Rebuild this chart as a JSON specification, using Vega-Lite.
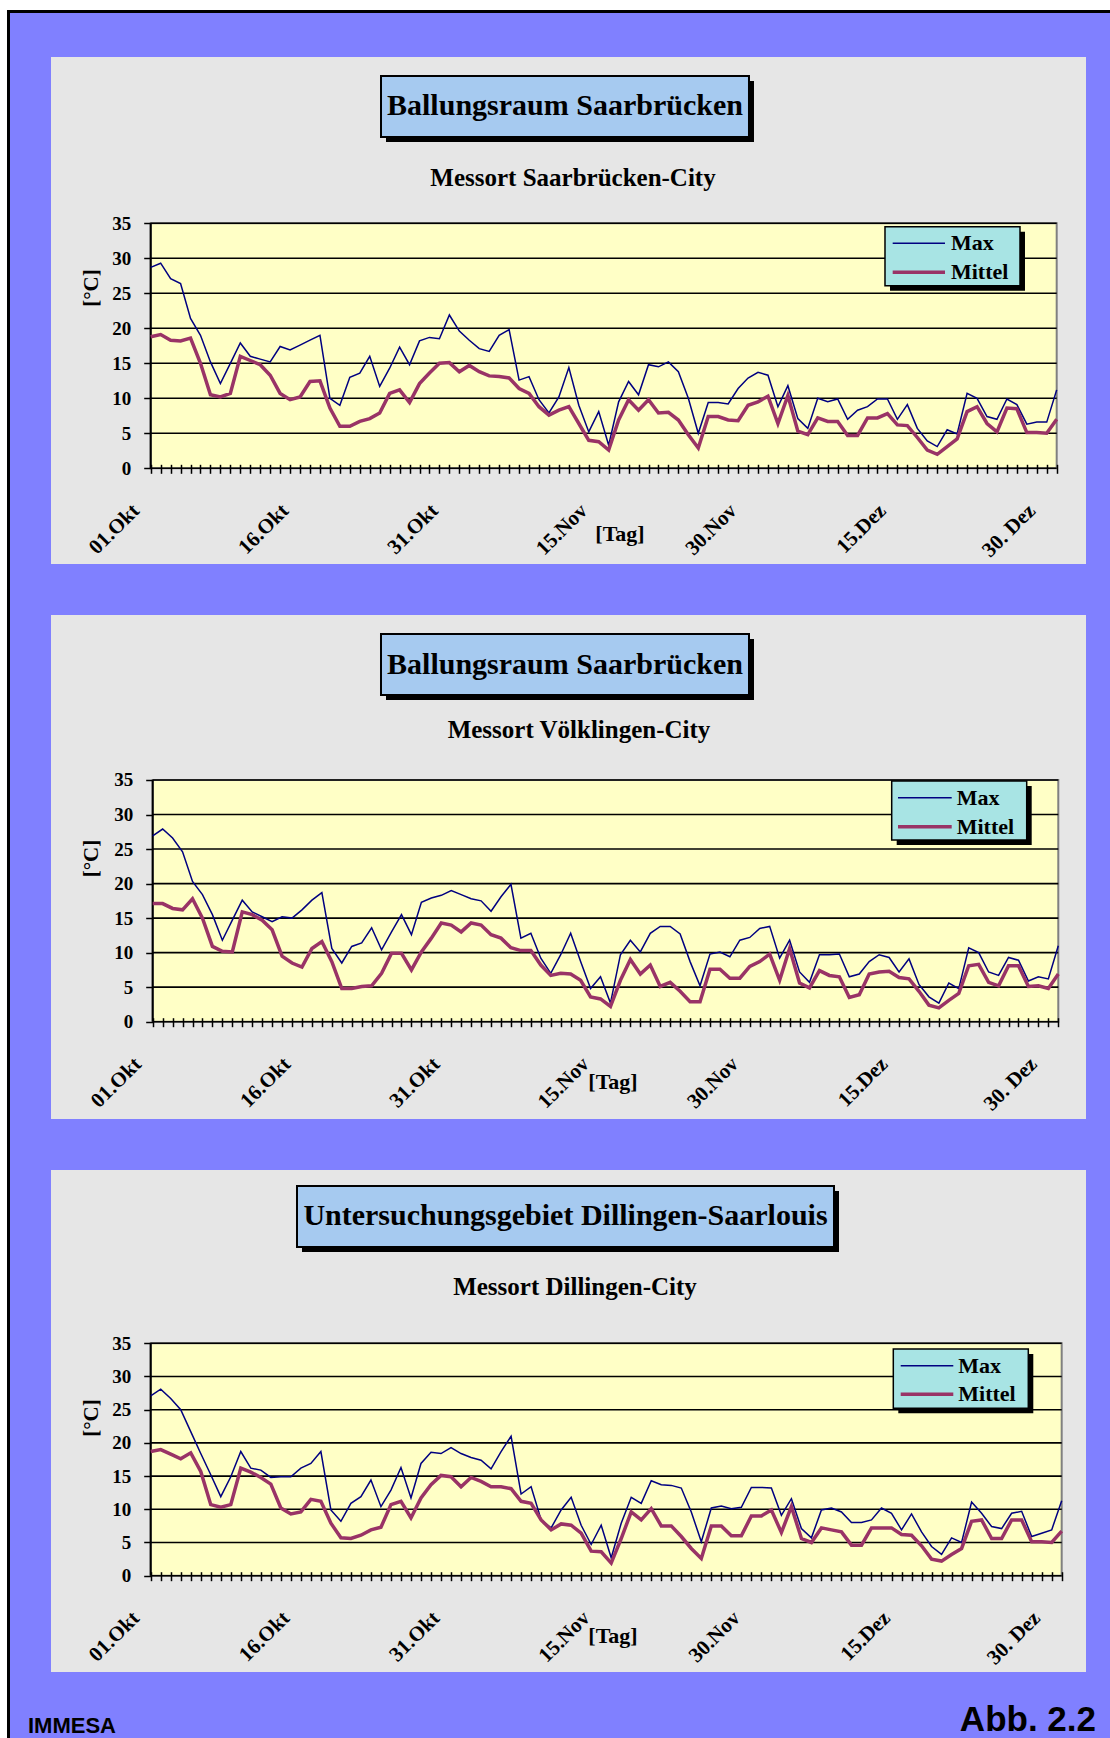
{
"$schema": "https://vega.github.io/schema/vega-lite/v6.json",
"background": "#8080FF",
"padding": 0,
"spacing": 0,
"config": {
 "view": {"stroke": null},
 "axis": {"domain": false, "grid": false, "labelFont": "Liberation Serif", "labelFontWeight": "bold", "labelColor": "#000000", "tickColor": "#000000", "tickWidth": 1.5, "labelFontSize": 19},
 "axisX": {"tickSize": 9, "labelAngle": -45, "labelAlign": "right", "labelBaseline": "middle", "labelPadding": 34, "labelOffset": -15, "labelFontSize": 21, "labelOverlap": false, "labelBound": false, "labelFlush": false},
 "axisY": {"tickSize": 7, "labelPadding": 13}
},
"datasets": {
 "grid": [{"g":0},{"g":5},{"g":10},{"g":15},{"g":20},{"g":25},{"g":30},{"g":35}],
 "p1": [
{"t":0,"Max":28.7,"Mittel":18.8},{"t":1,"Max":29.3,"Mittel":19.1},{"t":2,"Max":27.1,"Mittel":18.3},{"t":3,"Max":26.4,"Mittel":18.2},{"t":4,"Max":21.4,"Mittel":18.6},{"t":5,"Max":19.0,"Mittel":15.0},{"t":6,"Max":15.2,"Mittel":10.5},{"t":7,"Max":12.1,"Mittel":10.2},{"t":8,"Max":15.0,"Mittel":10.7},{"t":9,"Max":17.9,"Mittel":16.0},
{"t":10,"Max":16.0,"Mittel":15.4},{"t":11,"Max":15.6,"Mittel":14.8},{"t":12,"Max":15.2,"Mittel":13.3},{"t":13,"Max":17.4,"Mittel":10.7},{"t":14,"Max":16.9,"Mittel":9.8},{"t":15,"Max":17.6,"Mittel":10.2},{"t":16,"Max":18.3,"Mittel":12.4},{"t":17,"Max":19.0,"Mittel":12.5},{"t":18,"Max":10.0,"Mittel":8.6},{"t":19,"Max":9.0,"Mittel":6.0},
{"t":20,"Max":13.0,"Mittel":6.0},{"t":21,"Max":13.6,"Mittel":6.7},{"t":22,"Max":16.0,"Mittel":7.1},{"t":23,"Max":11.7,"Mittel":7.9},{"t":24,"Max":14.3,"Mittel":10.7},{"t":25,"Max":17.3,"Mittel":11.2},{"t":26,"Max":14.8,"Mittel":9.4},{"t":27,"Max":18.2,"Mittel":12.1},{"t":28,"Max":18.7,"Mittel":13.6},{"t":29,"Max":18.5,"Mittel":15.0},
{"t":30,"Max":21.9,"Mittel":15.1},{"t":31,"Max":19.6,"Mittel":13.8},{"t":32,"Max":18.3,"Mittel":14.7},{"t":33,"Max":17.1,"Mittel":13.8},{"t":34,"Max":16.7,"Mittel":13.2},{"t":35,"Max":19.0,"Mittel":13.1},{"t":36,"Max":19.8,"Mittel":12.9},{"t":37,"Max":12.6,"Mittel":11.4},{"t":38,"Max":13.1,"Mittel":10.7},{"t":39,"Max":9.8,"Mittel":8.8},
{"t":40,"Max":7.9,"Mittel":7.6},{"t":41,"Max":10.2,"Mittel":8.3},{"t":42,"Max":14.4,"Mittel":8.8},{"t":43,"Max":9.0,"Mittel":6.4},{"t":44,"Max":5.2,"Mittel":4.0},{"t":45,"Max":8.1,"Mittel":3.8},{"t":46,"Max":3.3,"Mittel":2.6},{"t":47,"Max":9.5,"Mittel":6.9},{"t":48,"Max":12.4,"Mittel":9.8},{"t":49,"Max":10.5,"Mittel":8.3},
{"t":50,"Max":14.8,"Mittel":9.8},{"t":51,"Max":14.5,"Mittel":7.9},{"t":52,"Max":15.2,"Mittel":8.0},{"t":53,"Max":13.8,"Mittel":6.9},{"t":54,"Max":10.0,"Mittel":4.8},{"t":55,"Max":5.0,"Mittel":2.9},{"t":56,"Max":9.4,"Mittel":7.4},{"t":57,"Max":9.4,"Mittel":7.4},{"t":58,"Max":9.2,"Mittel":6.9},{"t":59,"Max":11.4,"Mittel":6.8},
{"t":60,"Max":12.9,"Mittel":9.0},{"t":61,"Max":13.7,"Mittel":9.5},{"t":62,"Max":13.3,"Mittel":10.3},{"t":63,"Max":8.8,"Mittel":6.4},{"t":64,"Max":11.8,"Mittel":10.4},{"t":65,"Max":7.1,"Mittel":5.3},{"t":66,"Max":5.7,"Mittel":4.8},{"t":67,"Max":10.0,"Mittel":7.2},{"t":68,"Max":9.5,"Mittel":6.7},{"t":69,"Max":9.9,"Mittel":6.7},
{"t":70,"Max":7.0,"Mittel":4.7},{"t":71,"Max":8.3,"Mittel":4.7},{"t":72,"Max":8.8,"Mittel":7.2},{"t":73,"Max":9.9,"Mittel":7.2},{"t":74,"Max":9.9,"Mittel":7.8},{"t":75,"Max":7.0,"Mittel":6.2},{"t":76,"Max":9.1,"Mittel":6.1},{"t":77,"Max":5.7,"Mittel":4.4},{"t":78,"Max":3.9,"Mittel":2.6},{"t":79,"Max":3.1,"Mittel":2.0},
{"t":80,"Max":5.5,"Mittel":3.1},{"t":81,"Max":4.9,"Mittel":4.2},{"t":82,"Max":10.7,"Mittel":8.1},{"t":83,"Max":10.0,"Mittel":8.8},{"t":84,"Max":7.4,"Mittel":6.4},{"t":85,"Max":7.0,"Mittel":5.2},{"t":86,"Max":9.9,"Mittel":8.6},{"t":87,"Max":9.1,"Mittel":8.5},{"t":88,"Max":6.3,"Mittel":5.1},{"t":89,"Max":6.6,"Mittel":5.1},
{"t":90,"Max":6.6,"Mittel":5.0},{"t":91,"Max":11.2,"Mittel":7.0}
 ],
 "p2": [
{"t":0,"Max":26.9,"Mittel":17.1},{"t":1,"Max":27.9,"Mittel":17.1},{"t":2,"Max":26.6,"Mittel":16.4},{"t":3,"Max":24.6,"Mittel":16.2},{"t":4,"Max":20.3,"Mittel":17.8},{"t":5,"Max":18.4,"Mittel":15.0},{"t":6,"Max":15.5,"Mittel":10.9},{"t":7,"Max":11.8,"Mittel":10.2},{"t":8,"Max":14.7,"Mittel":10.1},{"t":9,"Max":17.6,"Mittel":15.9},
{"t":10,"Max":15.9,"Mittel":15.5},{"t":11,"Max":15.2,"Mittel":14.7},{"t":12,"Max":14.5,"Mittel":13.3},{"t":13,"Max":15.2,"Mittel":9.5},{"t":14,"Max":15.0,"Mittel":8.5},{"t":15,"Max":16.2,"Mittel":7.9},{"t":16,"Max":17.6,"Mittel":10.6},{"t":17,"Max":18.7,"Mittel":11.6},{"t":18,"Max":10.6,"Mittel":8.7},{"t":19,"Max":8.5,"Mittel":4.8},
{"t":20,"Max":10.9,"Mittel":4.8},{"t":21,"Max":11.4,"Mittel":5.1},{"t":22,"Max":13.6,"Mittel":5.2},{"t":23,"Max":10.4,"Mittel":7.0},{"t":24,"Max":13.0,"Mittel":9.9},{"t":25,"Max":15.5,"Mittel":9.9},{"t":26,"Max":12.6,"Mittel":7.5},{"t":27,"Max":17.3,"Mittel":10.1},{"t":28,"Max":17.9,"Mittel":12.1},{"t":29,"Max":18.3,"Mittel":14.3},
{"t":30,"Max":19.0,"Mittel":14.0},{"t":31,"Max":18.4,"Mittel":13.0},{"t":32,"Max":17.8,"Mittel":14.3},{"t":33,"Max":17.5,"Mittel":14.0},{"t":34,"Max":16.0,"Mittel":12.6},{"t":35,"Max":18.1,"Mittel":12.1},{"t":36,"Max":19.9,"Mittel":10.7},{"t":37,"Max":12.1,"Mittel":10.3},{"t":38,"Max":12.8,"Mittel":10.3},{"t":39,"Max":9.2,"Mittel":8.2},
{"t":40,"Max":7.0,"Mittel":6.7},{"t":41,"Max":9.7,"Mittel":7.0},{"t":42,"Max":12.8,"Mittel":6.9},{"t":43,"Max":8.7,"Mittel":6.0},{"t":44,"Max":4.8,"Mittel":3.6},{"t":45,"Max":6.5,"Mittel":3.3},{"t":46,"Max":2.7,"Mittel":2.2},{"t":47,"Max":9.7,"Mittel":6.0},{"t":48,"Max":11.8,"Mittel":9.0},{"t":49,"Max":10.1,"Mittel":6.9},
{"t":50,"Max":12.8,"Mittel":8.2},{"t":51,"Max":13.8,"Mittel":5.1},{"t":52,"Max":13.8,"Mittel":5.7},{"t":53,"Max":12.7,"Mittel":4.4},{"t":54,"Max":8.7,"Mittel":2.9},{"t":55,"Max":5.2,"Mittel":2.9},{"t":56,"Max":9.8,"Mittel":7.6},{"t":57,"Max":10.1,"Mittel":7.6},{"t":58,"Max":9.4,"Mittel":6.3},{"t":59,"Max":11.8,"Mittel":6.3},
{"t":60,"Max":12.2,"Mittel":8.0},{"t":61,"Max":13.5,"Mittel":8.7},{"t":62,"Max":13.8,"Mittel":9.8},{"t":63,"Max":9.2,"Mittel":6.0},{"t":64,"Max":11.8,"Mittel":10.6},{"t":65,"Max":7.2,"Mittel":5.6},{"t":66,"Max":5.7,"Mittel":4.9},{"t":67,"Max":9.7,"Mittel":7.4},{"t":68,"Max":9.7,"Mittel":6.7},{"t":69,"Max":9.8,"Mittel":6.5},
{"t":70,"Max":6.5,"Mittel":3.5},{"t":71,"Max":6.9,"Mittel":3.9},{"t":72,"Max":8.7,"Mittel":6.9},{"t":73,"Max":9.7,"Mittel":7.2},{"t":74,"Max":9.3,"Mittel":7.3},{"t":75,"Max":7.2,"Mittel":6.4},{"t":76,"Max":9.1,"Mittel":6.2},{"t":77,"Max":5.4,"Mittel":4.4},{"t":78,"Max":3.6,"Mittel":2.4},{"t":79,"Max":2.7,"Mittel":2.0},
{"t":80,"Max":5.6,"Mittel":3.1},{"t":81,"Max":4.8,"Mittel":4.1},{"t":82,"Max":10.7,"Mittel":8.1},{"t":83,"Max":10.0,"Mittel":8.3},{"t":84,"Max":7.2,"Mittel":5.7},{"t":85,"Max":6.7,"Mittel":5.2},{"t":86,"Max":9.3,"Mittel":8.1},{"t":87,"Max":8.9,"Mittel":8.1},{"t":88,"Max":5.9,"Mittel":5.1},{"t":89,"Max":6.5,"Mittel":5.2},
{"t":90,"Max":6.2,"Mittel":4.8},{"t":91,"Max":11.0,"Mittel":6.9}
 ],
 "p3": [
{"t":0,"Max":27.1,"Mittel":18.7},{"t":1,"Max":28.1,"Mittel":19.0},{"t":2,"Max":26.7,"Mittel":18.3},{"t":3,"Max":25.0,"Mittel":17.6},{"t":4,"Max":21.7,"Mittel":18.5},{"t":5,"Max":18.4,"Mittel":15.7},{"t":6,"Max":15.2,"Mittel":10.7},{"t":7,"Max":11.9,"Mittel":10.3},{"t":8,"Max":14.9,"Mittel":10.7},{"t":9,"Max":18.7,"Mittel":16.2},
{"t":10,"Max":16.2,"Mittel":15.6},{"t":11,"Max":15.9,"Mittel":14.8},{"t":12,"Max":14.8,"Mittel":13.8},{"t":13,"Max":14.9,"Mittel":10.2},{"t":14,"Max":14.9,"Mittel":9.3},{"t":15,"Max":16.2,"Mittel":9.6},{"t":16,"Max":16.9,"Mittel":11.5},{"t":17,"Max":18.7,"Mittel":11.2},{"t":18,"Max":9.9,"Mittel":7.9},{"t":19,"Max":8.2,"Mittel":5.7},
{"t":20,"Max":10.9,"Mittel":5.6},{"t":21,"Max":11.9,"Mittel":6.1},{"t":22,"Max":14.4,"Mittel":6.9},{"t":23,"Max":10.4,"Mittel":7.3},{"t":24,"Max":12.9,"Mittel":10.7},{"t":25,"Max":16.3,"Mittel":11.2},{"t":26,"Max":11.7,"Mittel":8.7},{"t":27,"Max":16.9,"Mittel":11.7},{"t":28,"Max":18.6,"Mittel":13.7},{"t":29,"Max":18.4,"Mittel":15.1},
{"t":30,"Max":19.3,"Mittel":14.9},{"t":31,"Max":18.4,"Mittel":13.4},{"t":32,"Max":17.8,"Mittel":14.8},{"t":33,"Max":17.4,"Mittel":14.2},{"t":34,"Max":16.1,"Mittel":13.4},{"t":35,"Max":18.7,"Mittel":13.4},{"t":36,"Max":21.0,"Mittel":13.1},{"t":37,"Max":12.3,"Mittel":11.2},{"t":38,"Max":13.4,"Mittel":10.9},{"t":39,"Max":8.4,"Mittel":8.4},
{"t":40,"Max":7.2,"Mittel":6.9},{"t":41,"Max":9.9,"Mittel":7.8},{"t":42,"Max":11.8,"Mittel":7.6},{"t":43,"Max":7.6,"Mittel":6.4},{"t":44,"Max":4.7,"Mittel":3.7},{"t":45,"Max":7.6,"Mittel":3.6},{"t":46,"Max":2.7,"Mittel":1.9},{"t":47,"Max":7.9,"Mittel":5.6},{"t":48,"Max":11.8,"Mittel":9.6},{"t":49,"Max":10.9,"Mittel":8.4},
{"t":50,"Max":14.3,"Mittel":10.1},{"t":51,"Max":13.7,"Mittel":7.5},{"t":52,"Max":13.6,"Mittel":7.5},{"t":53,"Max":13.2,"Mittel":5.9},{"t":54,"Max":9.6,"Mittel":4.1},{"t":55,"Max":5.1,"Mittel":2.6},{"t":56,"Max":10.2,"Mittel":7.5},{"t":57,"Max":10.5,"Mittel":7.5},{"t":58,"Max":10.1,"Mittel":6.0},{"t":59,"Max":10.3,"Mittel":6.0},
{"t":60,"Max":13.3,"Mittel":9.0},{"t":61,"Max":13.3,"Mittel":9.0},{"t":62,"Max":13.2,"Mittel":9.9},{"t":63,"Max":9.1,"Mittel":6.5},{"t":64,"Max":11.6,"Mittel":10.4},{"t":65,"Max":7.1,"Mittel":5.6},{"t":66,"Max":5.7,"Mittel":5.0},{"t":67,"Max":9.9,"Mittel":7.2},{"t":68,"Max":10.2,"Mittel":6.9},{"t":69,"Max":9.6,"Mittel":6.6},
{"t":70,"Max":8.0,"Mittel":4.6},{"t":71,"Max":8.0,"Mittel":4.6},{"t":72,"Max":8.4,"Mittel":7.2},{"t":73,"Max":10.2,"Mittel":7.2},{"t":74,"Max":9.4,"Mittel":7.2},{"t":75,"Max":6.9,"Mittel":6.2},{"t":76,"Max":9.3,"Mittel":6.1},{"t":77,"Max":6.6,"Mittel":4.5},{"t":78,"Max":4.4,"Mittel":2.5},{"t":79,"Max":3.2,"Mittel":2.2},
{"t":80,"Max":5.7,"Mittel":3.2},{"t":81,"Max":5.0,"Mittel":4.1},{"t":82,"Max":11.1,"Mittel":8.2},{"t":83,"Max":9.4,"Mittel":8.4},{"t":84,"Max":7.4,"Mittel":5.6},{"t":85,"Max":7.1,"Mittel":5.6},{"t":86,"Max":9.4,"Mittel":8.4},{"t":87,"Max":9.7,"Mittel":8.4},{"t":88,"Max":5.9,"Mittel":5.1},{"t":89,"Max":6.4,"Mittel":5.1},
{"t":90,"Max":6.9,"Mittel":5.0},{"t":91,"Max":11.3,"Mittel":6.7}
 ]
},
"vconcat": [
{
 "width": 1110, "height": 589,
 "data": {"values": [{}]},
 "layer": [
  {"mark": {"type": "rect", "fill": "#FFFFFF"}, "encoding": {"x": {"datum": -15.137, "scale": {"domain": [-15.137, 96.354], "nice": false, "zero": false}}, "x2": {"datum": 96.354}, "y": {"datum": 66.9, "scale": {"domain": [-17.243, 66.9], "nice": false, "zero": false}}, "y2": {"datum": 65.471}}},
  {"mark": {"type": "rect", "fill": "#000000"}, "encoding": {"x": {"datum": -14.434}, "x2": {"datum": 96.354}, "y": {"datum": 65.471}, "y2": {"datum": 65.043}}},
  {"mark": {"type": "rect", "fill": "#FFFFFF"}, "encoding": {"x": {"datum": -15.137}, "x2": {"datum": -14.434}, "y": {"datum": 66.9}, "y2": {"datum": -17.243}}},
  {"mark": {"type": "rect", "fill": "#000000"}, "encoding": {"x": {"datum": -14.434}, "x2": {"datum": -14.133}, "y": {"datum": 65.471}, "y2": {"datum": -17.243}}},
  {"mark": {"type": "rect", "fill": "#E6E6E6"}, "encoding": {"x": {"datum": -10.014}, "x2": {"datum": 93.944}, "y": {"datum": 58.757}, "y2": {"datum": -13.671}}},
  {"mark": {"type": "rect", "fill": "#000000"}, "encoding": {"x": {"datum": 23.634}, "x2": {"datum": 60.596}, "y": {"datum": 55.329}, "y2": {"datum": 46.614}}},
  {"mark": {"type": "rect", "fill": "#A6CAF0", "stroke": "#000000", "strokeWidth": 2}, "encoding": {"x": {"datum": 23.132}, "x2": {"datum": 60.093}, "y": {"datum": 56.043}, "y2": {"datum": 47.329}}},
  {"mark": {"type": "text", "font": "Liberation Serif", "fontWeight": "bold", "fontSize": 30, "fill": "#000000"}, "encoding": {"x": {"datum": 41.61}, "y": {"datum": 51.69}, "text": {"value": "Ballungsraum Saarbrücken"}}},
  {"mark": {"type": "text", "font": "Liberation Serif", "fontWeight": "bold", "fontSize": 25, "fill": "#000000"}, "encoding": {"x": {"datum": 42.416}, "y": {"datum": 41.471}, "text": {"value": "Messort Saarbrücken-City"}}},
  {"mark": {"type": "rect", "fill": "#FFFFC6", "stroke": "#808080", "strokeWidth": 2}, "encoding": {"x": {"datum": 0}, "x2": {"datum": 91}, "y": {"datum": 0}, "y2": {"datum": 35}}},
  {"data": {"name": "grid"}, "mark": {"type": "rule", "color": "#000000", "strokeWidth": 1.6}, "encoding": {"y": {"field": "g", "type": "quantitative"}, "x": {"datum": 0}, "x2": {"datum": 91}}},
  {"mark": {"type": "rule", "color": "#000000", "strokeWidth": 2}, "encoding": {"x": {"datum": 0}, "y": {"datum": 0}, "y2": {"datum": 35}}},
  {"data": {"name": "p1"}, "mark": {"type": "line", "color": "#000080", "strokeWidth": 1.5},
   "encoding": {
    "x": {"field": "t", "type": "quantitative", "scale": {"domain": [-15.137, 96.354], "nice": false, "zero": false},
          "axis": {"title": null, "zindex": 1, "offset": -124.7, "tickCount": 200, "values": [0,1,2,3,4,5,6,7,8,9,10,11,12,13,14,15,16,17,18,19,20,21,22,23,24,25,26,27,28,29,30,31,32,33,34,35,36,37,38,39,40,41,42,43,44,45,46,47,48,49,50,51,52,53,54,55,56,57,58,59,60,61,62,63,64,65,66,67,68,69,70,71,72,73,74,75,76,77,78,79,80,81,82,83,84,85,86,87,88,89,90,91],
                   "labelExpr": "datum.value===0?'01.Okt':datum.value===15?'16.Okt':datum.value===30?'31.Okt':datum.value===45?'15.Nov':datum.value===60?'30.Nov':datum.value===75?'15.Dez':datum.value===90?'30. Dez':''"}},
    "y": {"field": "Max", "type": "quantitative", "scale": {"domain": [-17.243, 66.9], "nice": false, "zero": false},
          "axis": {"title": null, "zindex": 1, "offset": -150.7, "values": [0,5,10,15,20,25,30,35]}}}},
  {"data": {"name": "p1"}, "mark": {"type": "line", "color": "#993366", "strokeWidth": 3.5}, "encoding": {"x": {"field": "t", "type": "quantitative"}, "y": {"field": "Mittel", "type": "quantitative"}}},
  {"mark": {"type": "rect", "fill": "#000000"}, "encoding": {"x": {"datum": 74.256}, "x2": {"datum": 87.816}, "y": {"datum": 33.8}, "y2": {"datum": 25.371}}},
  {"mark": {"type": "rect", "fill": "#A8E4E4", "stroke": "#000000", "strokeWidth": 1.5}, "encoding": {"x": {"datum": 73.754}, "x2": {"datum": 87.314}, "y": {"datum": 34.514}, "y2": {"datum": 26.086}}},
  {"mark": {"type": "rule", "color": "#000080", "strokeWidth": 1.5}, "encoding": {"x": {"datum": 74.527}, "x2": {"datum": 79.781}, "y": {"datum": 32.143}}},
  {"mark": {"type": "rule", "color": "#993366", "strokeWidth": 3.5}, "encoding": {"x": {"datum": 74.527}, "x2": {"datum": 79.781}, "y": {"datum": 28.0}}},
  {"mark": {"type": "text", "font": "Liberation Serif", "fontWeight": "bold", "fontSize": 22, "align": "left", "fill": "#000000"}, "encoding": {"x": {"datum": 80.383}, "y": {"datum": 32.143}, "text": {"value": "Max"}}},
  {"mark": {"type": "text", "font": "Liberation Serif", "fontWeight": "bold", "fontSize": 22, "align": "left", "fill": "#000000"}, "encoding": {"x": {"datum": 80.383}, "y": {"datum": 28.0}, "text": {"value": "Mittel"}}},
  {"mark": {"type": "text", "font": "Liberation Serif", "fontWeight": "bold", "fontSize": 21, "angle": 270, "fill": "#000000"}, "encoding": {"x": {"datum": -5.896}, "y": {"datum": 25.757}, "text": {"value": "[°C]"}}},
  {"mark": {"type": "text", "font": "Liberation Serif", "fontWeight": "bold", "fontSize": 22, "fill": "#000000"}, "encoding": {"x": {"datum": 47.137}, "y": {"datum": -9.386}, "text": {"value": "[Tag]"}}}
 ]
},
{
 "width": 1110, "height": 555,
 "data": {"values": [{}]},
 "layer": [
  {"mark": {"type": "rect", "fill": "#FFFFFF"}, "encoding": {"x": {"datum": -15.344, "scale": {"domain": [-15.344, 96.196], "nice": false, "zero": false}}, "x2": {"datum": -14.641}, "y": {"datum": 62.656, "scale": {"domain": [-17.709, 62.656], "nice": false, "zero": false}}, "y2": {"datum": -17.709}}},
  {"mark": {"type": "rect", "fill": "#000000"}, "encoding": {"x": {"datum": -14.641}, "x2": {"datum": -14.339}, "y": {"datum": 62.656}, "y2": {"datum": -17.709}}},
  {"mark": {"type": "rect", "fill": "#E6E6E6"}, "encoding": {"x": {"datum": -10.219}, "x2": {"datum": 93.784}, "y": {"datum": 58.891}, "y2": {"datum": -14.089}}},
  {"mark": {"type": "rect", "fill": "#000000"}, "encoding": {"x": {"datum": 23.444}, "x2": {"datum": 60.423}, "y": {"datum": 55.416}, "y2": {"datum": 46.583}}},
  {"mark": {"type": "rect", "fill": "#A6CAF0", "stroke": "#000000", "strokeWidth": 2}, "encoding": {"x": {"datum": 22.941}, "x2": {"datum": 59.92}, "y": {"datum": 56.139}, "y2": {"datum": 47.307}}},
  {"mark": {"type": "text", "font": "Liberation Serif", "fontWeight": "bold", "fontSize": 30, "fill": "#000000"}, "encoding": {"x": {"datum": 41.43}, "y": {"datum": 51.72}, "text": {"value": "Ballungsraum Saarbrücken"}}},
  {"mark": {"type": "text", "font": "Liberation Serif", "fontWeight": "bold", "fontSize": 25, "fill": "#000000"}, "encoding": {"x": {"datum": 42.838}, "y": {"datum": 42.239}, "text": {"value": "Messort Völklingen-City"}}},
  {"mark": {"type": "rect", "fill": "#FFFFC6", "stroke": "#808080", "strokeWidth": 2}, "encoding": {"x": {"datum": 0}, "x2": {"datum": 91}, "y": {"datum": 0}, "y2": {"datum": 35}}},
  {"data": {"name": "grid"}, "mark": {"type": "rule", "color": "#000000", "strokeWidth": 1.6}, "encoding": {"y": {"field": "g", "type": "quantitative"}, "x": {"datum": 0}, "x2": {"datum": 91}}},
  {"mark": {"type": "rule", "color": "#000000", "strokeWidth": 2}, "encoding": {"x": {"datum": 0}, "y": {"datum": 0}, "y2": {"datum": 35}}},
  {"data": {"name": "p2"}, "mark": {"type": "line", "color": "#000080", "strokeWidth": 1.5},
   "encoding": {
    "x": {"field": "t", "type": "quantitative", "scale": {"domain": [-15.344, 96.196], "nice": false, "zero": false},
          "axis": {"title": null, "zindex": 1, "offset": -126.3, "tickCount": 200, "values": [0,1,2,3,4,5,6,7,8,9,10,11,12,13,14,15,16,17,18,19,20,21,22,23,24,25,26,27,28,29,30,31,32,33,34,35,36,37,38,39,40,41,42,43,44,45,46,47,48,49,50,51,52,53,54,55,56,57,58,59,60,61,62,63,64,65,66,67,68,69,70,71,72,73,74,75,76,77,78,79,80,81,82,83,84,85,86,87,88,89,90,91],
                   "labelExpr": "datum.value===0?'01.Okt':datum.value===15?'16.Okt':datum.value===30?'31.Okt':datum.value===45?'15.Nov':datum.value===60?'30.Nov':datum.value===75?'15.Dez':datum.value===90?'30. Dez':''"}},
    "y": {"field": "Max", "type": "quantitative", "scale": {"domain": [-17.709, 62.656], "nice": false, "zero": false},
          "axis": {"title": null, "zindex": 1, "offset": -152.7, "values": [0,5,10,15,20,25,30,35]}}}},
  {"data": {"name": "p2"}, "mark": {"type": "line", "color": "#993366", "strokeWidth": 3.5}, "encoding": {"x": {"field": "t", "type": "quantitative"}, "y": {"field": "Mittel", "type": "quantitative"}}},
  {"mark": {"type": "rect", "fill": "#000000"}, "encoding": {"x": {"datum": 74.762}, "x2": {"datum": 88.328}, "y": {"datum": 34.13}, "y2": {"datum": 25.587}}},
  {"mark": {"type": "rect", "fill": "#A8E4E4", "stroke": "#000000", "strokeWidth": 1.5}, "encoding": {"x": {"datum": 74.26}, "x2": {"datum": 87.826}, "y": {"datum": 34.854}, "y2": {"datum": 26.311}}},
  {"mark": {"type": "rule", "color": "#000080", "strokeWidth": 1.5}, "encoding": {"x": {"datum": 74.893}, "x2": {"datum": 80.289}, "y": {"datum": 32.436}}},
  {"mark": {"type": "rule", "color": "#993366", "strokeWidth": 3.5}, "encoding": {"x": {"datum": 74.893}, "x2": {"datum": 80.289}, "y": {"datum": 28.236}}},
  {"mark": {"type": "text", "font": "Liberation Serif", "fontWeight": "bold", "fontSize": 22, "align": "left", "fill": "#000000"}, "encoding": {"x": {"datum": 80.791}, "y": {"datum": 32.436}, "text": {"value": "Max"}}},
  {"mark": {"type": "text", "font": "Liberation Serif", "fontWeight": "bold", "fontSize": 22, "align": "left", "fill": "#000000"}, "encoding": {"x": {"datum": 80.791}, "y": {"datum": 28.236}, "text": {"value": "Mittel"}}},
  {"mark": {"type": "text", "font": "Liberation Serif", "fontWeight": "bold", "fontSize": 21, "angle": 270, "fill": "#000000"}, "encoding": {"x": {"datum": -6.099}, "y": {"datum": 23.632}, "text": {"value": "[°C]"}}},
  {"mark": {"type": "text", "font": "Liberation Serif", "fontWeight": "bold", "fontSize": 22, "fill": "#000000"}, "encoding": {"x": {"datum": 46.254}, "y": {"datum": -8.732}, "text": {"value": "[Tag]"}}}
 ]
},
{
 "width": 1110, "height": 594,
 "data": {"values": [{}]},
 "layer": [
  {"mark": {"type": "rect", "fill": "#FFFFFF"}, "encoding": {"x": {"datum": -15.053, "scale": {"domain": [-15.053, 95.825], "nice": false, "zero": false}}, "x2": {"datum": -14.354}, "y": {"datum": 65.015, "scale": {"domain": [-24.443, 65.015], "nice": false, "zero": false}}, "y2": {"datum": -24.443}}},
  {"mark": {"type": "rect", "fill": "#000000"}, "encoding": {"x": {"datum": -14.354}, "x2": {"datum": -14.054}, "y": {"datum": 65.015}, "y2": {"datum": -24.443}}},
  {"mark": {"type": "rect", "fill": "#E6E6E6"}, "encoding": {"x": {"datum": -9.959}, "x2": {"datum": 93.428}, "y": {"datum": 61.099}, "y2": {"datum": -14.503}}},
  {"mark": {"type": "rect", "fill": "#000000"}, "encoding": {"x": {"datum": 15.113}, "x2": {"datum": 68.755}, "y": {"datum": 57.937}, "y2": {"datum": 48.75}}},
  {"mark": {"type": "rect", "fill": "#A6CAF0", "stroke": "#000000", "strokeWidth": 2}, "encoding": {"x": {"datum": 14.614}, "x2": {"datum": 68.255}, "y": {"datum": 58.69}, "y2": {"datum": 49.503}}},
  {"mark": {"type": "text", "font": "Liberation Serif", "fontWeight": "bold", "fontSize": 30, "fill": "#000000"}, "encoding": {"x": {"datum": 41.435}, "y": {"datum": 54.097}, "text": {"value": "Untersuchungsgebiet Dillingen-Saarlouis"}}},
  {"mark": {"type": "text", "font": "Liberation Serif", "fontWeight": "bold", "fontSize": 25, "fill": "#000000"}, "encoding": {"x": {"datum": 42.384}, "y": {"datum": 43.404}, "text": {"value": "Messort Dillingen-City"}}},
  {"mark": {"type": "rect", "fill": "#FFFFC6", "stroke": "#808080", "strokeWidth": 2}, "encoding": {"x": {"datum": 0}, "x2": {"datum": 91}, "y": {"datum": 0}, "y2": {"datum": 35}}},
  {"data": {"name": "grid"}, "mark": {"type": "rule", "color": "#000000", "strokeWidth": 1.6}, "encoding": {"y": {"field": "g", "type": "quantitative"}, "x": {"datum": 0}, "x2": {"datum": 91}}},
  {"mark": {"type": "rule", "color": "#000000", "strokeWidth": 2}, "encoding": {"x": {"datum": 0}, "y": {"datum": 0}, "y2": {"datum": 35}}},
  {"data": {"name": "p3"}, "mark": {"type": "line", "color": "#000080", "strokeWidth": 1.5},
   "encoding": {
    "x": {"field": "t", "type": "quantitative", "scale": {"domain": [-15.053, 95.825], "nice": false, "zero": false},
          "axis": {"title": null, "zindex": 1, "offset": -166.3, "tickCount": 200, "values": [0,1,2,3,4,5,6,7,8,9,10,11,12,13,14,15,16,17,18,19,20,21,22,23,24,25,26,27,28,29,30,31,32,33,34,35,36,37,38,39,40,41,42,43,44,45,46,47,48,49,50,51,52,53,54,55,56,57,58,59,60,61,62,63,64,65,66,67,68,69,70,71,72,73,74,75,76,77,78,79,80,81,82,83,84,85,86,87,88,89,90,91],
                   "labelExpr": "datum.value===0?'01.Okt':datum.value===15?'16.Okt':datum.value===30?'31.Okt':datum.value===45?'15.Nov':datum.value===60?'30.Nov':datum.value===75?'15.Dez':datum.value===90?'30. Dez':''"}},
    "y": {"field": "Max", "type": "quantitative", "scale": {"domain": [-24.443, 65.015], "nice": false, "zero": false},
          "axis": {"title": null, "zindex": 1, "offset": -150.7, "values": [0,5,10,15,20,25,30,35]}}}},
  {"data": {"name": "p3"}, "mark": {"type": "line", "color": "#993366", "strokeWidth": 3.5}, "encoding": {"x": {"field": "t", "type": "quantitative"}, "y": {"field": "Mittel", "type": "quantitative"}}},
  {"mark": {"type": "rect", "fill": "#000000"}, "encoding": {"x": {"datum": 74.679}, "x2": {"datum": 88.163}, "y": {"datum": 33.389}, "y2": {"datum": 24.458}}},
  {"mark": {"type": "rect", "fill": "#A8E4E4", "stroke": "#000000", "strokeWidth": 1.5}, "encoding": {"x": {"datum": 74.179}, "x2": {"datum": 87.664}, "y": {"datum": 34.142}, "y2": {"datum": 25.211}}},
  {"mark": {"type": "rule", "color": "#000080", "strokeWidth": 1.5}, "encoding": {"x": {"datum": 74.918}, "x2": {"datum": 80.172}, "y": {"datum": 31.627}}},
  {"mark": {"type": "rule", "color": "#993366", "strokeWidth": 3.5}, "encoding": {"x": {"datum": 74.918}, "x2": {"datum": 80.172}, "y": {"datum": 27.319}}},
  {"mark": {"type": "text", "font": "Liberation Serif", "fontWeight": "bold", "fontSize": 22, "align": "left", "fill": "#000000"}, "encoding": {"x": {"datum": 80.672}, "y": {"datum": 31.627}, "text": {"value": "Max"}}},
  {"mark": {"type": "text", "font": "Liberation Serif", "fontWeight": "bold", "fontSize": 22, "align": "left", "fill": "#000000"}, "encoding": {"x": {"datum": 80.672}, "y": {"datum": 27.319}, "text": {"value": "Mittel"}}},
  {"mark": {"type": "text", "font": "Liberation Serif", "fontWeight": "bold", "fontSize": 21, "angle": 270, "fill": "#000000"}, "encoding": {"x": {"datum": -5.863}, "y": {"datum": 23.75}, "text": {"value": "[°C]"}}},
  {"mark": {"type": "text", "font": "Liberation Serif", "fontWeight": "bold", "fontSize": 22, "fill": "#000000"}, "encoding": {"x": {"datum": 46.18}, "y": {"datum": -9.081}, "text": {"value": "[Tag]"}}},
  {"mark": {"type": "text", "font": "Liberation Sans", "fontWeight": "bold", "fontSize": 22, "align": "left", "baseline": "bottom", "fill": "#000000"}, "encoding": {"x": {"datum": -12.256}, "y": {"datum": -24.443}, "text": {"value": "IMMESA"}}},
  {"mark": {"type": "text", "font": "Liberation Sans", "fontWeight": "bold", "fontSize": 35, "align": "right", "baseline": "bottom", "fill": "#000000"}, "encoding": {"x": {"datum": 94.427}, "y": {"datum": -24.443}, "text": {"value": "Abb. 2.2"}}}
 ]
}
]
}
